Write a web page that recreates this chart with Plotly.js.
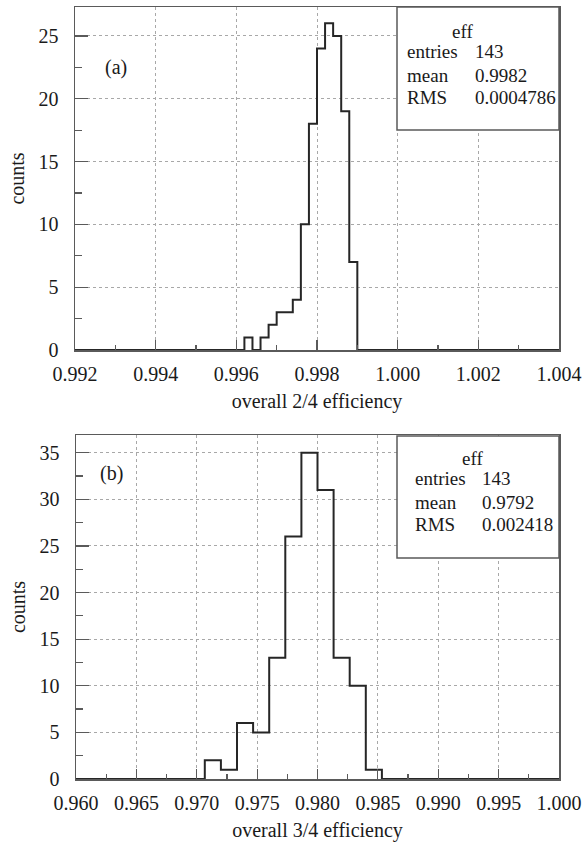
<!DOCTYPE html>
<html>
<head>
<meta charset="utf-8">
<script src="https://cdn.plot.ly/plotly-3.0.1.min.js"></script>
<style>html,body{margin:0;padding:0;background:#fff;}#chart{width:582px;height:844px;}</style>
</head>
<body>
<div id="chart"></div>
<script>
// ---- data ----
// panel (a): overall 2/4 efficiency, bins of width 0.0002
const rangeA = [0.992, 1.004];
const edgesA = [0.9962, 0.9964, 0.9966, 0.9968, 0.9970, 0.9972, 0.9974, 0.9976, 0.9978, 0.9980, 0.9982, 0.9984, 0.9986, 0.9988, 0.9990];
const countsA = [1, 0, 1, 2, 3, 3, 4, 10, 18, 24, 26, 25, 19, 7];
const statsA = {name: 'eff', entries: '143', mean: '0.9982', rms: '0.0004786'};

// panel (b): overall 3/4 efficiency, 30 bins over 0.96-1.00
const rangeB = [0.960, 1.000];
const edgesB = [0.970667, 0.972000, 0.973333, 0.974667, 0.976000, 0.977333, 0.978667, 0.980000, 0.981333, 0.982667, 0.984000, 0.985333];
const countsB = [2, 1, 6, 5, 13, 26, 35, 31, 13, 10, 1];
const statsB = {name: 'eff', entries: '143', mean: '0.9792', rms: '0.002418'};

const xTitleA = 'overall 2/4 efficiency';
const xTitleB = 'overall 3/4 efficiency';
const yTitle = 'counts';

// ---- helpers ----
function stepX(range, edges) { return [range[0]].concat(edges, [range[1]]); }
function stepY(counts) { return [0].concat(counts, [0, 0]); }

const W = 582, H = 844;
const px = v => v / W;
const py = v => 1 - v / H;

const FONT = 'Liberation Serif, Times New Roman, serif';
const TXT = '#1a1a1a';
const LINE = '#5a5a5a';

const traces = [
  {x: stepX(rangeA, edgesA), y: stepY(countsA), xaxis: 'x', yaxis: 'y', type: 'scatter', mode: 'lines',
   line: {shape: 'hv', color: '#262626', width: 2}, hoverinfo: 'skip', showlegend: false},
  {x: stepX(rangeB, edgesB), y: stepY(countsB), xaxis: 'x2', yaxis: 'y2', type: 'scatter', mode: 'lines',
   line: {shape: 'hv', color: '#262626', width: 2}, hoverinfo: 'skip', showlegend: false}
];

function xAxis(range, dtick, minor, title) {
  return {
    range: range, autorange: false, tick0: range[0], dtick: dtick, tickformat: '.3f',
    ticks: 'inside', ticklen: 10, tickwidth: 1.2, tickcolor: LINE,
    minor: {dtick: minor, tick0: range[0], ticks: 'inside', ticklen: 5, tickwidth: 1.2, tickcolor: LINE, showgrid: false},
    showgrid: true, gridcolor: '#a8a8a8', griddash: 'dot', gridwidth: 1,
    showline: true, mirror: true, linecolor: LINE, linewidth: 1.5, zeroline: false,
    tickfont: {family: FONT, size: 20, color: TXT}, ticklabelstandoff: 5,
    title: {text: title, font: {family: FONT, size: 20, color: TXT}, standoff: 10}
  };
}
function yAxis(range, title) {
  return {
    range: range, autorange: false, tick0: 0, dtick: 5,
    ticks: 'inside', ticklen: 13, tickwidth: 1.2, tickcolor: LINE,
    minor: {dtick: 2.5, tick0: 0, ticks: 'inside', ticklen: 7, tickwidth: 1.2, tickcolor: LINE, showgrid: false},
    showgrid: true, gridcolor: '#a8a8a8', griddash: 'dot', gridwidth: 1,
    showline: true, mirror: true, linecolor: LINE, linewidth: 1.5, zeroline: false,
    tickfont: {family: FONT, size: 20, color: TXT}, ticklabelstandoff: 11,
    title: {text: title, font: {family: FONT, size: 20, color: TXT}, standoff: 8}
  };
}

const xa = xAxis(rangeA, 0.002, 0.001, xTitleA); xa.domain = [px(75), px(559)];
const xb = xAxis(rangeB, 0.005, 0.0025, xTitleB); xb.domain = [px(76), px(559)];
const ya = yAxis([0, 27.3], yTitle); ya.domain = [py(350), py(7)];
const yb = yAxis([0, 36.9], yTitle); yb.domain = [py(779), py(435)];
xa.anchor = 'y'; ya.anchor = 'x';
xb.anchor = 'y2'; yb.anchor = 'x2';

function statsBox(x0, y0, y1) {
  return {type: 'rect', xref: 'paper', yref: 'paper', x0: px(x0), x1: px(559), y0: py(y1), y1: py(y0),
    fillcolor: '#ffffff', line: {color: LINE, width: 1.5}, layer: 'above'};
}
function txt(text, x, y, anchor, size) {
  return {text: text, xref: 'paper', yref: 'paper', x: px(x), y: py(y), xanchor: anchor || 'left', yanchor: 'middle',
    showarrow: false, font: {family: FONT, size: size || 19, color: TXT}};
}
function statsText(s, cx, ey, lx, vx) {
  return [
    txt(s.name, cx, ey, 'center'),
    txt('entries', lx, ey + 21, 'left'), txt(s.entries, vx, ey + 21, 'left'),
    txt('mean', lx, ey + 44, 'left'), txt(s.mean, vx, ey + 44, 'left'),
    txt('RMS', lx, ey + 66, 'left'), txt(s.rms, vx, ey + 66, 'left')
  ];
}

const layout = {
  width: W, height: H, margin: {l: 0, r: 0, t: 0, b: 0},
  paper_bgcolor: '#ffffff', plot_bgcolor: '#ffffff', showlegend: false,
  xaxis: xa, yaxis: ya, xaxis2: xb, yaxis2: yb,
  shapes: [statsBox(397, 7, 130), statsBox(397, 436, 558)],
  annotations: [].concat(
    statsText(statsA, 463, 31, 405, 473),
    statsText(statsB, 472, 458, 413, 480),
    [txt('(a)', 116, 67, 'center', 20), txt('(b)', 111, 473, 'center', 20)]
  )
};

Plotly.newPlot('chart', traces, layout, {staticPlot: true, displayModeBar: false});
</script>
</body>
</html>
